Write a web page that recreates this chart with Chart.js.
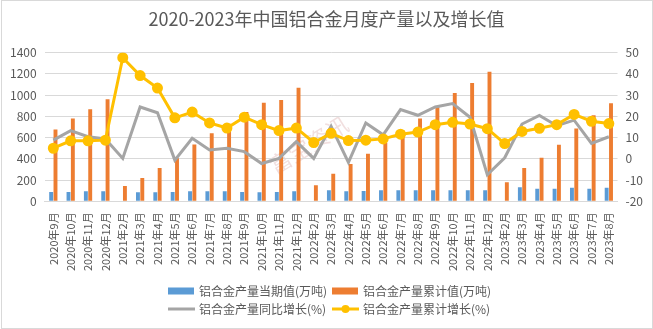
<!DOCTYPE html>
<html>
<head>
<meta charset="utf-8">
<script src="https://cdn.jsdelivr.net/npm/chart.js@4"></script>
<style>
  html, body { margin: 0; padding: 0; background: #fff; }
  #wrap { width: 653px; height: 329px; position: relative; }
</style>
</head>
<body>
<div id="wrap"><canvas id="chart" width="653" height="329"></canvas></div>
<script>
/* 2020-2023 aluminium alloy monthly output — bars + growth lines */

const FONT = '"Noto Sans CJK SC", "Noto Sans", sans-serif';
const TEXT = '#595959';

const months = [
    '2020年9月','2020年10月','2020年11月','2020年12月',
    '2021年2月','2021年3月','2021年4月','2021年5月','2021年6月','2021年7月','2021年8月',
    '2021年9月','2021年10月','2021年11月','2021年12月',
    '2022年2月','2022年3月','2022年4月','2022年5月','2022年6月','2022年7月','2022年8月',
    '2022年9月','2022年10月','2022年11月','2022年12月',
    '2023年2月','2023年3月','2023年4月','2023年5月','2023年6月','2023年7月','2023年8月'
];

// 万吨
const monthlyOutput = [88, 88, 96, 96, null, 87, 87, 88, 96, 96, 95, 88, 87, 88, 96,
    null, 105, 96, 97, 104, 104, 104, 105, 105, 104, 104,
    null, 133, 118, 118, 127, 119, 127];
const cumulativeOutput = [676, 781, 867, 962, 145, 220, 314, 405, 535, 640, 730, 840, 927, 955, 1070,
    152, 260, 352, 448, 552, 667, 781, 886, 1019, 1114, 1219,
    181, 314, 410, 533, 686, 810, 924];

// %
const yoyGrowth = [8.8, 13.3, 10.4, 9.4, 0.2, 24.4, 21.7, -0.6, 9.7, 4.2, 5, 3.4, -2.2, 0.2, 8.1,
    0.2, 15.3, -1.7, 16.9, 11.3, 23.2, 20.5, 24.4, 26, 19.6, -7.5,
    0.5, 16.4, 20.4, 15.6, 18.2, 7.3, 10.4];
const cumGrowth = [5, 8.5, 8.5, 8.8, 47.6, 39.2, 33.3, 19.3, 22, 16.9, 14.5, 19.6, 16.1, 13.3, 14.5,
    7.7, 12, 8.6, 8.8, 9.4, 11.6, 12.6, 16.1, 17.2, 16.4, 14.2,
    7.2, 12.9, 14.4, 16.1, 20.9, 17.7, 16.6];

const leftTicks = [0, 1400, 200];
const rightTicks = [-20, 50, 10];

// frame + watermark behind everything
const backdrop = {
    id: 'backdrop',
    beforeDraw(chart) {
        const { ctx, width, height } = chart;
        ctx.save();
        ctx.strokeStyle = '#d9d9d9';
        ctx.lineWidth = 1;
        ctx.strokeRect(1.5, 0.5, width - 2, height - 1);
        ctx.translate(300, 150);
        ctx.rotate(-0.55);
        ctx.fillStyle = 'rgba(205,140,140,0.28)';
        ctx.font = '22px ' + FONT;
        ctx.textAlign = 'center';
        ctx.textBaseline = 'middle';
        ctx.fillText('富宝资讯', 10, 0);
        ctx.restore();
    }
};

// 2x2 legend under the axis labels
const gridLegend = {
    id: 'gridLegend',
    afterDraw(chart) {
        const { ctx } = chart;
        const ds = chart.data.datasets;
        const rows = [[ds[0], ds[1]], [ds[2], ds[3]]];
        const rowY = [291, 309];
        const colX = [168, 332];
        ctx.save();
        ctx.font = '12px ' + FONT;
        ctx.textBaseline = 'middle';
        ctx.fillStyle = TEXT;
        rows.forEach((row, r) => {
            row.forEach((d, c) => {
                const x = colX[c], y = rowY[r];
                if (d.type === 'bar') {
                    ctx.fillStyle = d.backgroundColor;
                    ctx.fillRect(x, y - 3.5, 26, 7);
                } else {
                    ctx.strokeStyle = d.borderColor;
                    ctx.lineWidth = 3;
                    ctx.beginPath();
                    ctx.moveTo(x, y);
                    ctx.lineTo(x + 27, y);
                    ctx.stroke();
                    if (d.pointRadius > 0) {
                        ctx.fillStyle = d.pointBackgroundColor;
                        ctx.beginPath();
                        ctx.arc(x + 13.5, y, 4, 0, Math.PI * 2);
                        ctx.fill();
                    }
                }
                ctx.fillStyle = TEXT;
                ctx.fillText(d.label, x + 31, y);
            });
        });
        ctx.restore();
    }
};

new Chart(document.getElementById('chart'), {
    data: {
        labels: months,
        datasets: [
            {
                type: 'bar',
                label: '铝合金产量当期值(万吨)',
                data: monthlyOutput,
                backgroundColor: '#5b9bd5',
                yAxisID: 'y',
                order: 2,
                categoryPercentage: 0.5,
                barPercentage: 0.9,
            },
            {
                type: 'bar',
                label: '铝合金产量累计值(万吨)',
                data: cumulativeOutput,
                backgroundColor: '#ed7d31',
                yAxisID: 'y',
                order: 2,
                categoryPercentage: 0.5,
                barPercentage: 0.9,
            },
            {
                type: 'line',
                label: '铝合金产量同比增长(%)',
                data: yoyGrowth,
                borderColor: '#a5a5a5',
                borderWidth: 3,
                pointRadius: 0,
                tension: 0,
                yAxisID: 'y1',
                order: 1,
            },
            {
                type: 'line',
                label: '铝合金产量累计增长(%)',
                data: cumGrowth,
                borderColor: '#ffc000',
                backgroundColor: '#ffc000',
                pointBackgroundColor: '#ffc000',
                pointBorderColor: '#ffc000',
                borderWidth: 3,
                pointRadius: 4,
                tension: 0,
                yAxisID: 'y1',
                order: 0,
            },
        ],
    },
    options: {
        responsive: false,
        animation: false,
        layout: { padding: { left: 2, right: 2, top: 0, bottom: 55 } },
        plugins: {
            legend: { display: false },
            tooltip: { enabled: false },
            title: {
                display: true,
                text: '2020-2023年中国铝合金月度产量以及增长值',
                color: TEXT,
                font: { family: FONT, size: 18, weight: 'normal' },
                padding: { top: 8, bottom: 23 },
            },
        },
        scales: {
            x: {
                grid: { display: false },
                border: { color: '#d9d9d9' },
                ticks: {
                    color: TEXT,
                    font: { family: FONT, size: 11 },
                    minRotation: 90,
                    maxRotation: 90,
                    autoSkip: false,
                },
            },
            y: {
                position: 'left',
                min: leftTicks[0],
                max: leftTicks[1],
                grid: { color: '#d9d9d9', drawTicks: false },
                border: { display: false },
                ticks: {
                    stepSize: leftTicks[2], color: TEXT, font: { family: FONT, size: 12 }, padding: 8,
                    callback: v => String(v),
                },
            },
            y1: {
                position: 'right',
                min: rightTicks[0],
                max: rightTicks[1],
                grid: { display: false, drawTicks: false },
                border: { display: false },
                ticks: {
                    stepSize: rightTicks[2], color: TEXT, font: { family: FONT, size: 12 }, padding: 8,
                    callback: v => String(v),
                },
            },
        },
    },
    plugins: [backdrop, gridLegend],
});
</script>
</body>
</html>
